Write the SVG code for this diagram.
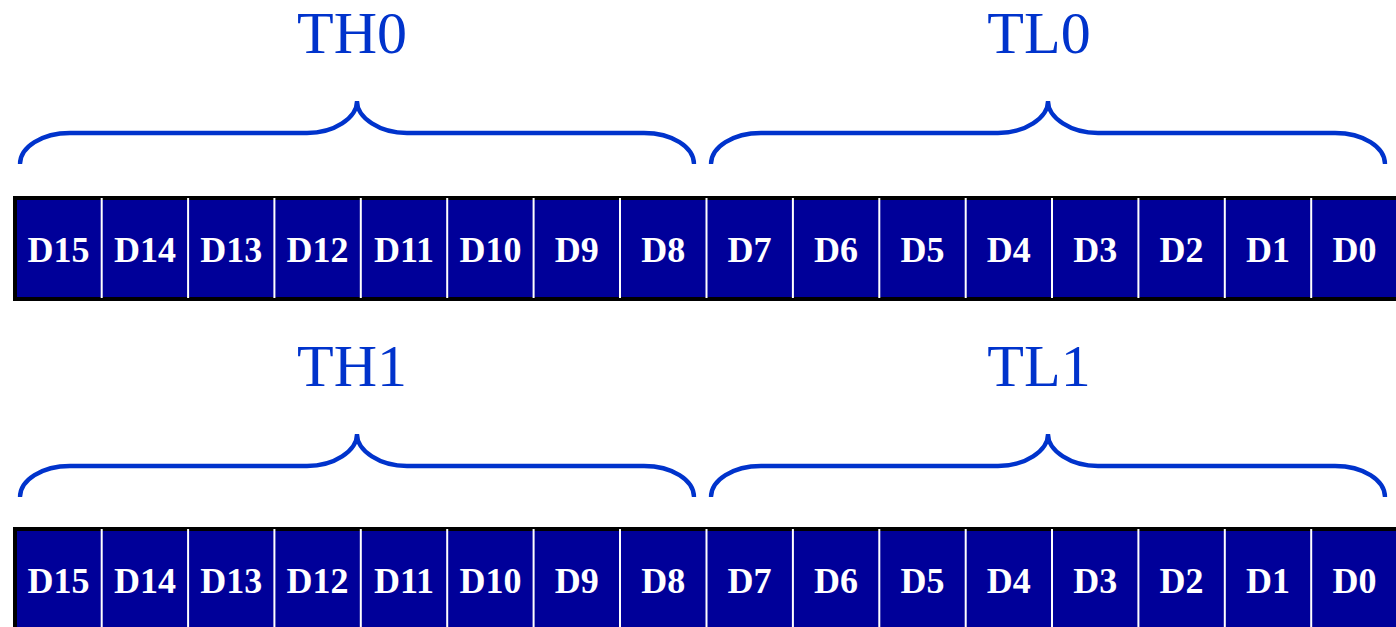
<svg xmlns="http://www.w3.org/2000/svg" width="1396" height="627" viewBox="0 0 1396 627">
<defs>
<style>
.lbl{font-family:"Liberation Serif","Times New Roman",serif;font-size:60px;fill:#0033cc;text-anchor:middle}
.brace{fill:none;stroke:#0033cc;stroke-width:4.3}
.bar{fill:#000099;stroke:#000;stroke-width:4}
.sep{stroke:#fff;stroke-width:2}
.bit{font-family:"Liberation Serif","Times New Roman",serif;font-size:36px;font-weight:bold;fill:#fff;text-anchor:middle}
</style>
<path id="br" class="brace" d="M20,164 C20,147 42,133 70,133 L307,133 C334,133 357,118 357,101 C357,118 380,133 407,133 L644,133 C672,133 694,147 694,164"/>
<g id="cells">
<line class="sep" x1="101.7" y1="0" x2="101.7" y2="100"/>
<line class="sep" x1="188.1" y1="0" x2="188.1" y2="100"/>
<line class="sep" x1="274.4" y1="0" x2="274.4" y2="100"/>
<line class="sep" x1="360.8" y1="0" x2="360.8" y2="100"/>
<line class="sep" x1="447.2" y1="0" x2="447.2" y2="100"/>
<line class="sep" x1="533.6" y1="0" x2="533.6" y2="100"/>
<line class="sep" x1="620" y1="0" x2="620" y2="100"/>
<line class="sep" x1="706.5" y1="0" x2="706.5" y2="100"/>
<line class="sep" x1="792.9" y1="0" x2="792.9" y2="100"/>
<line class="sep" x1="879.3" y1="0" x2="879.3" y2="100"/>
<line class="sep" x1="965.7" y1="0" x2="965.7" y2="100"/>
<line class="sep" x1="1052" y1="0" x2="1052" y2="100"/>
<line class="sep" x1="1138.4" y1="0" x2="1138.4" y2="100"/>
<line class="sep" x1="1224.8" y1="0" x2="1224.8" y2="100"/>
<line class="sep" x1="1311.2" y1="0" x2="1311.2" y2="100"/>
<text class="bit" x="58.5" y="64">D15</text>
<text class="bit" x="144.9" y="64">D14</text>
<text class="bit" x="231.3" y="64">D13</text>
<text class="bit" x="317.6" y="64">D12</text>
<text class="bit" x="404" y="64">D11</text>
<text class="bit" x="490.4" y="64">D10</text>
<text class="bit" x="576.8" y="64">D9</text>
<text class="bit" x="663.2" y="64">D8</text>
<text class="bit" x="749.6" y="64">D7</text>
<text class="bit" x="836" y="64">D6</text>
<text class="bit" x="922.4" y="64">D5</text>
<text class="bit" x="1008.8" y="64">D4</text>
<text class="bit" x="1095.2" y="64">D3</text>
<text class="bit" x="1181.6" y="64">D2</text>
<text class="bit" x="1268" y="64">D1</text>
<text class="bit" x="1354.4" y="64">D0</text>
</g>
</defs>
<g id="reg0">
<text class="lbl" x="352" y="53">TH0</text>
<text class="lbl" x="1039" y="53">TL0</text>
<use href="#br"/>
<use href="#br" x="691"/>
<rect class="bar" x="15" y="198" width="1385" height="101"/>
<use href="#cells" y="198"/>
</g>
<g id="reg1">
<text class="lbl" x="352" y="386">TH1</text>
<text class="lbl" x="1039" y="386">TL1</text>
<use href="#br" y="333"/>
<use href="#br" x="691" y="333"/>
<rect class="bar" x="15" y="529" width="1385" height="110"/>
<use href="#cells" y="529"/>
</g>
</svg>
